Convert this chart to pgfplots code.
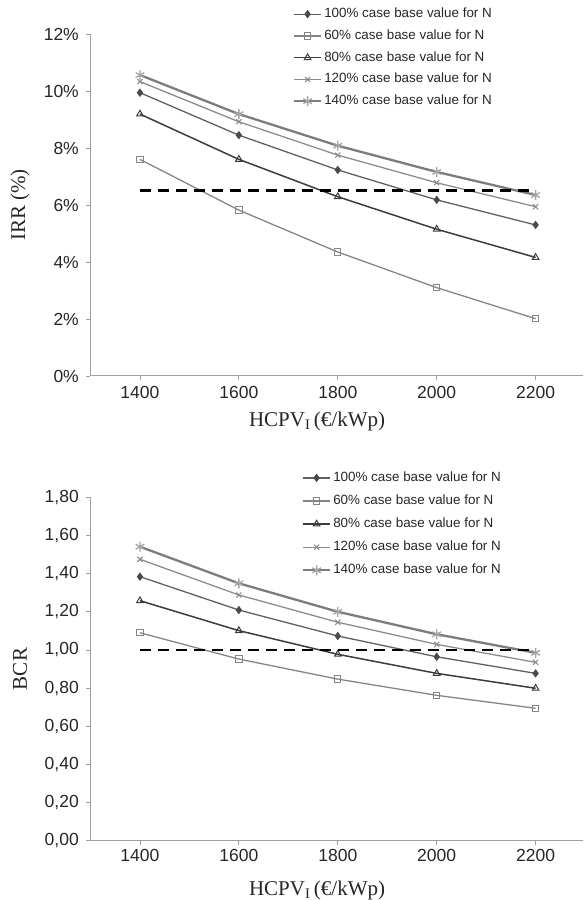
\documentclass[border=0pt]{standalone}
\usepackage{pgfplots}
\pgfplotsset{compat=1.18}
\usepackage{fontspec}
\setmainfont{Liberation Sans}
\newfontfamily\serifLS{Liberation Serif}
\definecolor{cA}{HTML}{606060}
\definecolor{cAm}{HTML}{4A4A4A}
\definecolor{cB}{HTML}{858585}
\definecolor{cC}{HTML}{3C3C3C}
\definecolor{cD}{HTML}{8C8C8C}
\definecolor{cE}{HTML}{7C7C7C}
\definecolor{cEm}{HTML}{A5A5A5}
\definecolor{axgray}{HTML}{A0A0A0}

\pgfplotsset{
  mystyle/.style={
    scale only axis,
    width=492.1pt,
    xmin=1300, xmax=2295,
    axis x line*=bottom, axis y line*=left,
    axis line style={draw=axgray, line width=1pt},
    tick align=outside, major tick length=4pt,
    tick style={draw=axgray, line width=0.8pt},
    xtick={1400,1600,1800,2000,2200},
    xticklabels={1400,1600,1800,2000,2200},
    tick label style={font=\fontsize{17.5}{20}\selectfont, text=black!85},
    yticklabel style={inner sep=0pt, xshift=-7.5pt},
    label style={font=\serifLS\fontsize{21}{24}\selectfont, text=black!85},
    legend cell align=left,
    legend image code/.code={\draw[mark repeat=2,mark phase=2,##1] plot coordinates {(0pt,0pt)(13.5pt,0pt)(27pt,0pt)};},
    clip=false,
  },
  lA/.style={color=cA, line width=1.3pt, mark=diamond*, mark size=3.2pt, mark options={solid, fill=cAm, draw=cAm}},
  lB/.style={color=cB, line width=1.3pt, mark=square, mark size=3.2pt, mark options={solid, fill=white, line width=1pt}},
  lC/.style={color=cC, line width=1.5pt, mark=triangle, mark size=3.8pt, mark options={solid, fill=white, line width=1pt}},
  lD/.style={color=cD, line width=1.3pt, mark=x, mark size=3.6pt, mark options={solid, line width=1.1pt}},
  lE/.style={color=cE, line width=2.3pt, mark=asterisk, mark size=5pt, mark options={solid, line width=1.3pt, draw=cEm}},
  dashref/.style={black, line width=2.6pt, dash pattern=on 11pt off 7pt, forget plot},
}

\begin{document}
\begin{tikzpicture}
\useasboundingbox (0pt,0pt) rectangle (584pt,900pt);

% ---------------- IRR ----------------
\begin{axis}[mystyle,
  at={(90.5pt,524pt)}, anchor=south west,
  height=342pt, ymin=0, ymax=12,
  ytick={0,2,4,6,8,10,12},
  yticklabels={0\%,2\%,4\%,6\%,8\%,10\%,12\%},
  xticklabel style={inner sep=0pt, yshift=-5.7pt},
  ylabel={IRR (\%)},
  ylabel style={at={(axis description cs:-0.1433,0.5)}, anchor=center, rotate=0},
  xlabel={HCPV\textsubscript{I}\,(€/kWp)},
  xlabel style={at={(axis description cs:0.4604,-0.1336)}, anchor=center},
  legend style={at={(0.411,1.0775)}, anchor=north west, draw=none, fill=none,
    inner sep=0pt, row sep=8.75pt, column sep=2pt,
    nodes={inner sep=0pt, text height=10pt, text depth=3pt, font=\fontsize{13.4}{16}\selectfont, text=black!85}},
]
\addplot[lA] coordinates {(1400,9.94)(1600,8.45)(1800,7.23)(2000,6.18)(2200,5.30)};
\addlegendentry{100\% case base value for N}
\addplot[lB] coordinates {(1400,7.60)(1600,5.82)(1800,4.35)(2000,3.10)(2200,2.01)};
\addlegendentry{60\% case base value for N}
\addplot[lC] coordinates {(1400,9.19)(1600,7.60)(1800,6.29)(2000,5.15)(2200,4.16)};
\addlegendentry{80\% case base value for N}
\addplot[lD] coordinates {(1400,10.33)(1600,8.92)(1800,7.75)(2000,6.78)(2200,5.94)};
\addlegendentry{120\% case base value for N}
\addplot[lE] coordinates {(1400,10.56)(1600,9.19)(1800,8.08)(2000,7.16)(2200,6.35)};
\addlegendentry{140\% case base value for N}
\addplot[dashref] coordinates {(1400,6.5)(2200,6.5)};
\end{axis}

% ---------------- BCR ----------------
\begin{axis}[mystyle,
  at={(90.5pt,59.3pt)}, anchor=south west,
  height=343.4pt, ymin=0, ymax=1.8,
  ytick={0,0.2,0.4,0.6,0.8,1.0,1.2,1.4,1.6,1.8},
  yticklabels={{0,00},{0,20},{0,40},{0,60},{0,80},{1,00},{1,20},{1,40},{1,60},{1,80}},
  xticklabel style={inner sep=0pt, yshift=-4pt},
  ylabel={BCR},
  ylabel style={at={(axis description cs:-0.1433,0.5)}, anchor=center, rotate=0},
  xlabel={HCPV\textsubscript{I}\,(€/kWp)},
  xlabel style={at={(axis description cs:0.4604,-0.1436)}, anchor=center},
  legend style={at={(0.4293,1.076)}, anchor=north west, draw=none, fill=none,
    inner sep=0pt, row sep=10.1pt, column sep=2pt,
    nodes={inner sep=0pt, text height=10pt, text depth=3pt, font=\fontsize{13.4}{16}\selectfont, text=black!85}},
]
\addplot[lA] coordinates {(1400,1.384)(1600,1.209)(1800,1.073)(2000,0.964)(2200,0.877)};
\addlegendentry{100\% case base value for N}
\addplot[lB] coordinates {(1400,1.090)(1600,0.952)(1800,0.847)(2000,0.762)(2200,0.694)};
\addlegendentry{60\% case base value for N}
\addplot[lC] coordinates {(1400,1.258)(1600,1.101)(1800,0.977)(2000,0.877)(2200,0.799)};
\addlegendentry{80\% case base value for N}
\addplot[lD] coordinates {(1400,1.475)(1600,1.288)(1800,1.145)(2000,1.029)(2200,0.935)};
\addlegendentry{120\% case base value for N}
\addplot[lE] coordinates {(1400,1.541)(1600,1.349)(1800,1.200)(2000,1.082)(2200,0.985)};
\addlegendentry{140\% case base value for N}
\addplot[dashref] coordinates {(1400,1.0)(2200,1.0)};
\end{axis}
\end{tikzpicture}
\end{document}
